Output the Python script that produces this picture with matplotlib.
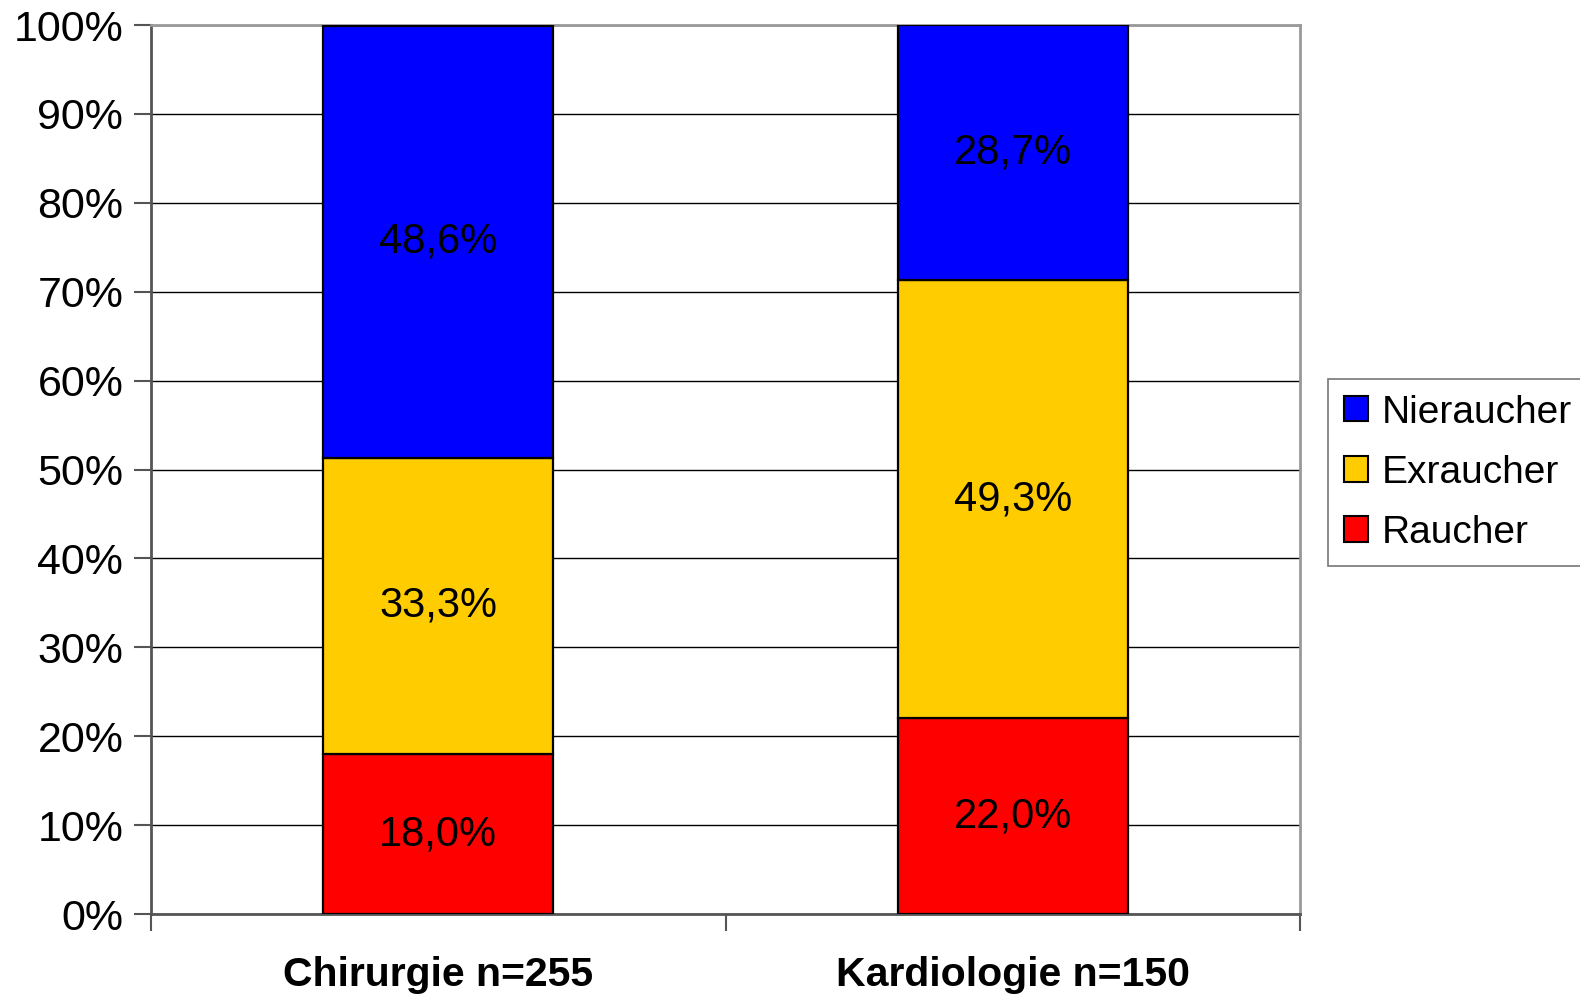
import numpy as np
import matplotlib.pyplot as plt
from matplotlib.patches import Patch

plt.rcParams['font.family'] = ['Liberation Sans', 'DejaVu Sans']

# Raucherstatus nach Fachabteilung (Anteile in %)
abteilungen = ['Chirurgie n=255', 'Kardiologie n=150']
gruppen = ['Raucher', 'Exraucher', 'Nieraucher']
raucher = [18.0, 22.0]
exraucher = [33.3, 49.3]
nieraucher = [48.6, 28.7]
farben = ['#FF0000', '#FFCC00', '#0000FF']

fig = plt.figure(figsize=(15.8, 10.01), dpi=100)
ax = fig.add_axes([0.0956, 0.0869, 0.7272, 0.8881])

x = np.arange(len(abteilungen))
unten = np.zeros(len(abteilungen))
for name, werte, farbe in zip(gruppen, [raucher, exraucher, nieraucher], farben):
    werte = np.array(werte)
    ax.bar(x, werte, 0.4, bottom=unten, color=farbe, edgecolor='black',
           linewidth=1.6, zorder=3)
    for xi, b, w in zip(x, unten, werte):
        ax.text(xi, b + w / 2, f'{w:.1f}%'.replace('.', ','), ha='center',
                va='center', fontsize=30, zorder=4)
    unten += werte

ax.set_xlim(-0.5, 1.5)
ax.set_ylim(0, 100)
ax.set_yticks(np.arange(0, 101, 10))
ax.set_yticklabels([f'{v}%' for v in range(0, 101, 10)], fontsize=31)
ax.tick_params(axis='y', length=12, width=1.5, color='#555555', pad=8)
ax.set_xticks(x)
ax.set_xticklabels(abteilungen, fontsize=29.5, fontweight='bold')
ax.tick_params(axis='x', which='major', length=0, pad=30)
ax.set_xticks([-0.5, 0.5, 1.5], minor=True)
ax.tick_params(axis='x', which='minor', length=12, width=1.5, color='#555555')

ax.yaxis.grid(True, color='black', linewidth=1, zorder=0)
ax.set_axisbelow(True)
for side in ['left', 'bottom']:
    ax.spines[side].set_color('#555555')
    ax.spines[side].set_linewidth(2)
for side in ['top', 'right']:
    ax.spines[side].set_color('#999999')
    ax.spines[side].set_linewidth(2)

handles = [Patch(facecolor=f, edgecolor='black', linewidth=1.5, label=g)
           for g, f in zip(gruppen, farben)][::-1]
leg = fig.legend(handles=handles, loc='upper left',
                 bbox_to_anchor=(0.8405, 0.6214), fontsize=28,
                 fancybox=False, edgecolor='#777777', framealpha=1,
                 handlelength=0.62, handleheight=0.62, handletextpad=0.35,
                 borderpad=0.4, labelspacing=0.62, borderaxespad=0)
leg.get_frame().set_linewidth(1.2)

fig.savefig('out.png', dpi=100)
